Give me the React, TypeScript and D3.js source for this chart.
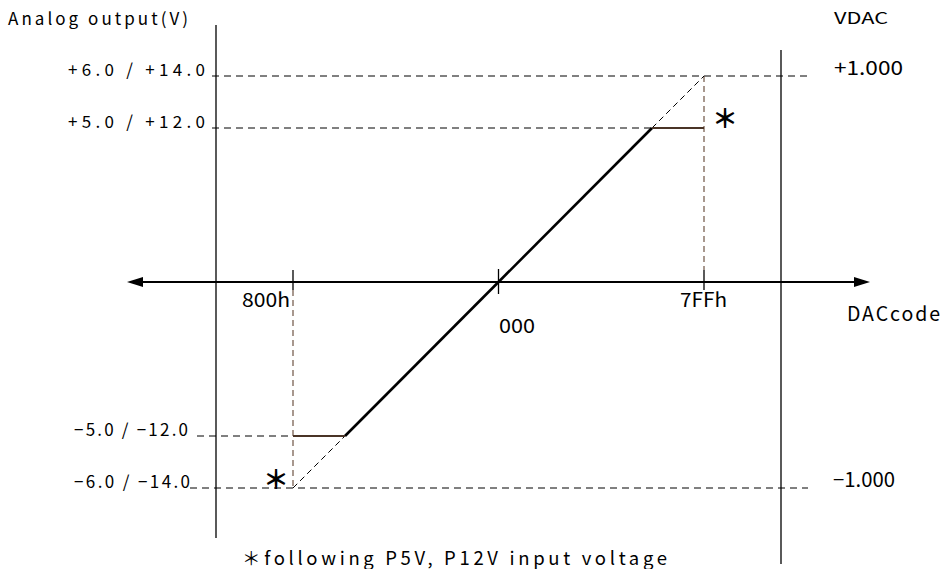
import React from "react";
import * as d3 from "d3";

// ---- data ----
const codeTicks = [-2048, 0, 2047];
const codeLabels = ["800h", "000", "7FFh"];
const levelValues = [6, 5, -5, -6];
const levelLabels = ["+6.0 / +14.0", "+5.0 / +12.0", "\u22125.0 / \u221212.0", "\u22126.0 / \u221214.0"];
const vdacValues = [6, -6];
const vdacLabels = ["+1.000", "\u22121.000"];
const fullScale = 6;
const clampLevel = 5;
const clampCodes = [-1707, 1706];
const transferCodes = [-2048, 2047];
const transferVolts = [-6, 6];

const W = 945;
const H = 569;
const FONT = "'Noto Sans CJK JP', 'Liberation Sans', sans-serif";
const BROWN = "#4a3426";
const BROWN_DASH = "#6e5444";

export default function App() {
  // schematic (not-to-scale) polylinear scales, as in the original diagram
  const x = d3
    .scaleLinear()
    .domain([transferCodes[0], clampCodes[0], 0, clampCodes[1], transferCodes[1]])
    .range([293, 345, 498.5, 652, 704]);
  const y = d3
    .scaleLinear()
    .domain([-fullScale, -clampLevel, 0, clampLevel, fullScale])
    .range([488, 436, 282, 128, 76]);

  const cLo = clampCodes[0];
  const cHi = clampCodes[1];

  const line = d3
    .line<[number, number]>()
    .x((d) => x(d[0]))
    .y((d) => y(d[1]));

  const solidPts: [number, number][] = [
    [cLo, -clampLevel],
    [0, 0],
    [cHi, clampLevel],
  ];
  const dashLo: [number, number][] = [
    [transferCodes[0], transferVolts[0]],
    [cLo, -clampLevel],
  ];
  const dashHi: [number, number][] = [
    [cHi, clampLevel],
    [transferCodes[1], transferVolts[1]],
  ];
  const clampLo: [number, number][] = [
    [transferCodes[0], -clampLevel],
    [cLo, -clampLevel],
  ];
  const clampHi: [number, number][] = [
    [cHi, clampLevel],
    [transferCodes[1], clampLevel],
  ];

  const y0 = y(0);
  const leftX = 216;
  const rightX = 781;
  const axisL = 127;
  const axisR = 870;

  const leaderStart = [212, 212, 197, 190];
  const leaderEnd = [807, x(transferCodes[1]), x(transferCodes[0]), 808];
  const labelX = [68, 68, 74, 74];
  const labelW = [137, 137, 114, 116];

  return (
    <svg
      width={W}
      height={H}
      style={{ position: "absolute", left: 0, top: 0, display: "block", background: "#fff" }}
      fontFamily={FONT}
    >
      {/* vertical frame lines */}
      <line x1={leftX} x2={leftX} y1={25} y2={538} stroke="#000" strokeWidth={1.3} />
      <line x1={rightX} x2={rightX} y1={50} y2={564} stroke="#000" strokeWidth={1.3} />

      {/* horizontal dashed leaders */}
      {levelValues.map((v, i) => (
        <line
          key={"ld" + i}
          x1={leaderStart[i]}
          x2={leaderEnd[i]}
          y1={y(v)}
          y2={y(v)}
          stroke="#000"
          strokeWidth={1}
          strokeDasharray="7,5"
        />
      ))}

      {/* brown vertical dashed lines */}
      <line
        x1={x(codeTicks[0])}
        x2={x(codeTicks[0])}
        y1={y0 + 8}
        y2={y(-fullScale)}
        stroke={BROWN_DASH}
        strokeWidth={1.2}
        strokeDasharray="6,4"
      />
      <line
        x1={x(codeTicks[2])}
        x2={x(codeTicks[2])}
        y1={y(fullScale)}
        y2={y0 - 12}
        stroke={BROWN_DASH}
        strokeWidth={1.2}
        strokeDasharray="6,4"
      />

      {/* x axis with arrows */}
      <line x1={axisL + 12} x2={axisR - 12} y1={y0} y2={y0} stroke="#000" strokeWidth={2.2} />
      <path d={`M${axisL},${y0} L${axisL + 16},${y0 - 5} L${axisL + 16},${y0 + 5} Z`} fill="#000" />
      <path d={`M${axisR},${y0} L${axisR - 16},${y0 - 5} L${axisR - 16},${y0 + 5} Z`} fill="#000" />

      {/* ticks */}
      {codeTicks.map((c, i) => (
        <line
          key={"tk" + i}
          x1={x(c)}
          x2={x(c)}
          y1={i === 1 ? y0 - 13 : y0 - 12}
          y2={i === 1 ? y0 + 12 : y0 + 8}
          stroke="#000"
          strokeWidth={1.3}
        />
      ))}

      {/* transfer curve */}
      <path d={line(dashLo) || ""} stroke="#000" strokeWidth={1} strokeDasharray="6,4" fill="none" />
      <path d={line(dashHi) || ""} stroke="#000" strokeWidth={1} strokeDasharray="6,4" fill="none" />
      <path d={line(solidPts) || ""} stroke="#000" strokeWidth={2.6} fill="none" />
      <path d={line(clampLo) || ""} stroke={BROWN} strokeWidth={2} fill="none" />
      <path d={line(clampHi) || ""} stroke={BROWN} strokeWidth={2} fill="none" />

      {/* texts */}
      <text x={8} y={25} fontSize={17} textLength={180} lengthAdjust="spacing">
        Analog output(V)
      </text>
      <text x={834} y={24} fontSize={16} textLength={54} lengthAdjust="spacingAndGlyphs">
        VDAC
      </text>

      {levelValues.map((v, i) => (
        <text
          key={"lb" + i}
          x={labelX[i]}
          y={y(v)}
          fontSize={17}
          textLength={labelW[i]}
          lengthAdjust="spacing"
        >
          {levelLabels[i]}
        </text>
      ))}

      {vdacValues.map((v, i) => (
        <text
          key={"vd" + i}
          x={i === 0 ? 834 : 833}
          y={y(v) - 1}
          fontSize={19.5}
          textLength={i === 0 ? 69 : 62}
          lengthAdjust="spacingAndGlyphs"
        >
          {vdacLabels[i]}
        </text>
      ))}

      <text x={242} y={307} fontSize={19.5} textLength={48} lengthAdjust="spacingAndGlyphs">
        {codeLabels[0]}
      </text>
      <text x={499} y={333} fontSize={19.5} textLength={36} lengthAdjust="spacingAndGlyphs">
        {codeLabels[1]}
      </text>
      <text x={680} y={307} fontSize={19.5} textLength={47} lengthAdjust="spacingAndGlyphs">
        {codeLabels[2]}
      </text>
      <text x={847} y={321} fontSize={19.5} textLength={93} lengthAdjust="spacing">
        DACcode
      </text>

      {/* asterisks */}
      <text x={725} y={116} fontSize={26} fontWeight="bold" textAnchor="middle" dominantBaseline="central">
        ＊
      </text>
      <text x={276} y={477} fontSize={26} fontWeight="bold" textAnchor="middle" dominantBaseline="central">
        ＊
      </text>

      <text x={242} y={565} fontSize={18.5} textLength={425} lengthAdjust="spacing">
        ＊following P5V, P12V input voltage
      </text>
    </svg>
  );
}
